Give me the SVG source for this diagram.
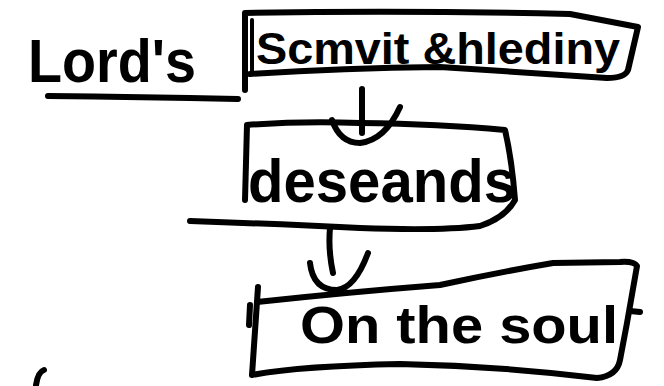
<svg xmlns="http://www.w3.org/2000/svg" width="664" height="386" viewBox="0 0 664 386">
<style>
.ink{fill:none;stroke:#000;stroke-width:6;stroke-linecap:round;stroke-linejoin:round}
.thin{fill:none;stroke:#000;stroke-width:4;stroke-linecap:round;stroke-linejoin:round}
.hw{font-family:"Liberation Sans","DejaVu Sans",sans-serif;font-weight:bold;fill:#000}
</style>
<rect width="664" height="386" fill="#fff"/>
<g id="node-lords">
<text class="hw" x="28" y="82" font-size="62" textLength="168" lengthAdjust="spacingAndGlyphs">Lord's</text>
<path class="ink" d="M48,96 Q140,97 238,99"/>
</g>
<g id="node-summit">
<path class="ink" d="M245,90 L245,13 Q400,10 570,14 L638,27 L628,70 Q625,78 607,78 Q520,72 440,67 Q340,68 250,74"/>
<path class="thin" d="M252,20 L252,74"/>
<text class="hw" x="256" y="64" font-size="44" textLength="364" lengthAdjust="spacingAndGlyphs">Scmvit &amp;hlediny</text>
</g>
<g id="node-descends">
<path class="ink" d="M245,200 L247,125 Q300,121 360,123 Q440,124 505,130 Q512,160 515,200 Q505,218 480,226 Q440,231 360,228 Q280,224 190,221"/>
<text class="hw" x="248" y="202" font-size="62" textLength="268" lengthAdjust="spacingAndGlyphs">deseands</text>
</g>
<g id="node-soul">
<path class="ink" d="M258,287 L252,375 Q300,366 400,364 Q500,366 597,378 Q617,376 620,360 L627,323 L637,266 Q634,261 620,262 L553,263 Q500,272 440,285 Q350,292 257,302"/>
<path class="ink" d="M250,305 L249,325"/>
<path class="ink" d="M630,311 L640,312"/>
<text class="hw" x="300" y="343" font-size="52" textLength="318" lengthAdjust="spacingAndGlyphs">On the soul</text>
</g>
<g id="connectors">
<path class="ink" d="M362,89 L362,133"/>
<path class="ink" d="M332,120 Q340,143 360,143 Q385,140 400,107"/>
<path class="ink" d="M330,228 Q328,250 333,273"/>
<path class="ink" d="M310,263 Q313,290 337,290 Q355,288 368,253"/>
</g>
<path class="ink" d="M36,385 Q38,372 44,370"/>
</svg>
